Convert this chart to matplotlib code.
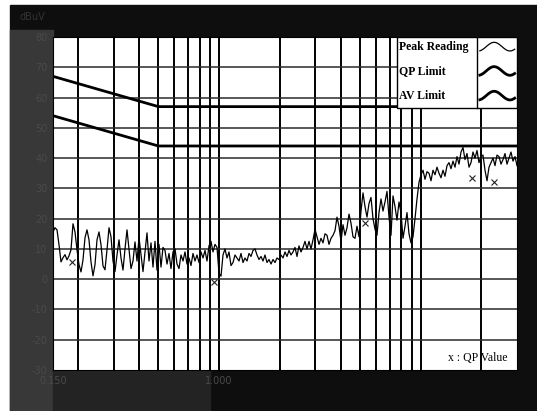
import numpy as np
import matplotlib
matplotlib.use("Agg")
import matplotlib.pyplot as plt
from matplotlib.patches import Rectangle

# --- DATA ---
# limit lines, MHz / dBuV
limit_freq = [0.15, 0.5, 30.0]
qp_limit = [67.0, 57.0, 57.0]
av_limit = [54.0, 44.0, 44.0]

# peak reading, log sweep 0.15 .. 30 MHz, levels in dBuV
peak_low = [15.6, 17.0, 16.3, 11.4, 5.7, 7.1, 8.1, 6.4, 7.7, 9.7,
            18.3, 15.6, 9.7, 4.8, 2.4, 6.4, 13.7, 16.3, 13.0, 5.7,
            1.1, 4.8, 13.0, 15.6, 11.4, 4.4, 3.1, 9.7, 17.0, 14.0,
            6.0, 2.5, 8.0, 13.0, 7.0, 3.0, 10.0, 16.3, 10.0, 3.5,
            6.0, 12.3, 6.0, 13.7, 8.0, 2.5, 9.0, 15.3, 6.0, 12.0,
            4.0, 12.5, 3.0, 11.5]
peak_mid = [4.0, 10.5, 9.5, 5.0, 8.5, 3.5, 9.0, 10.0, 5.0, 3.5,
            8.0, 6.0, 9.0, 5.0, 7.0, 4.5, 8.5, 6.0, 8.0, 5.5,
            9.0, 7.0, 9.5, 6.0, 11.0, 12.5, 9.0, 11.5, 10.5, 2.0,
            1.0, 8.0, 10.0, 7.0, 9.0, 4.5, 5.5, 8.0, 7.0, 6.0,
            8.5, 5.5, 7.0, 6.0, 8.5, 7.5, 9.5, 10.0, 8.0, 6.5,
            7.5, 6.0, 8.0, 5.5, 6.5, 5.0, 6.5, 5.5, 7.0, 6.5,
            8.0, 7.0, 9.0, 7.5, 9.5, 8.0]
peak_rise = [9.0, 10.5, 7.5, 11.0, 9.0, 10.5, 12.5, 10.0, 12.5, 10.0,
             13.0, 16.5, 14.0, 11.5, 13.5, 12.0, 15.0, 14.5, 11.5, 13.5,
             14.5, 16.0, 20.5, 17.5, 12.5, 18.0, 14.5, 17.0, 21.5, 18.5,
             14.0, 13.5, 17.5, 14.0, 22.5, 28.5, 24.0, 20.5, 25.0, 27.0,
             20.0, 16.5, 14.5, 22.0, 26.5, 22.5, 25.5, 29.0, 20.5, 14.5,
             27.5, 24.0, 19.5, 25.5, 22.0, 13.5, 17.5, 22.0, 15.0, 12.0,
             14.0, 20.0, 26.5]
peak_high = [32.0, 34.5, 36.0, 33.0, 35.5, 35.0, 32.5, 36.0, 34.5, 37.0,
             35.0, 33.5, 36.0, 34.0, 37.5, 38.5, 36.5, 39.0, 37.0, 40.5,
             38.0, 42.0, 43.5, 39.5, 41.5, 37.0, 38.5, 42.0, 40.0, 42.5,
             38.5, 40.5, 41.0, 36.0, 32.5, 37.0, 38.5, 40.0, 37.5, 41.0,
             40.5, 38.0, 39.5, 41.5, 38.0, 40.0, 42.0, 39.0, 40.5, 37.5]
peak = peak_low + peak_mid + peak_rise + peak_high
sweep_freq = np.geomspace(0.15, 30.0, len(peak))

# QP measured values
qp_freq = [0.186, 0.944, 5.28, 17.9, 23.1]
qp_value = [5.7, -0.9, 18.6, 33.5, 32.1]

y_ticks = [80, 70, 60, 50, 40, 30, 20, 10, 0, -10, -20, -30]
x_grid = [0.2, 0.3, 0.4, 0.5, 0.6, 0.7, 0.8, 0.9, 1,
          2, 3, 4, 5, 6, 7, 8, 9, 10, 20]
legend_labels = ["Peak Reading", "QP Limit", "AV Limit"]

W, H = 537, 411
fig = plt.figure(figsize=(W / 100, H / 100), dpi=100, facecolor="white")

# scanned dark frame around the plot
def px_rect(x0, y0, x1, y1, color):
    fig.patches.append(Rectangle((x0 / W, 1 - y1 / H), (x1 - x0) / W, (y1 - y0) / H,
                                 transform=fig.transFigure, color=color, zorder=-5))

px_rect(10, 5, W, H, "#0e0e0e")
px_rect(10, 30, 53, H, "#383838")
px_rect(53, 370, 210, H, "#232323")

ax = fig.add_axes([53 / W, 1 - 370 / H, (517 - 53) / W, (370 - 37) / H])
ax.set_zorder(5)
ax.set_facecolor("white")
ax.set_xscale("log")
ax.set_xlim(0.15, 30)
ax.set_ylim(-30, 80)

for f in x_grid:
    ax.axvline(f, color="black", lw=1.4, zorder=1)
for v in y_ticks[1:-1]:
    ax.axhline(v, color="#2a2a2a", lw=1.1, zorder=1)

ax.plot(limit_freq, qp_limit, color="black", lw=2.0, zorder=3)
ax.plot(limit_freq, av_limit, color="black", lw=2.0, zorder=3)
ax.plot(sweep_freq, peak, color="black", lw=0.9, zorder=4)
ax.plot(qp_freq, qp_value, ls="none", marker="x", ms=4.5, mew=0.8,
        color="#222222", zorder=5)

# faint, barely legible axis text as on the scan
ax.set_yticks(y_ticks)
ax.set_yticklabels([str(v) for v in y_ticks])
ax.set_xticks([0.15, 1])
ax.set_xticklabels(["0.150", "1.000"])
ax.xaxis.set_minor_locator(matplotlib.ticker.NullLocator())
ax.tick_params(length=0, labelsize=7, colors="#4a4a4a", pad=4)
for s in ax.spines.values():
    s.set_color("black")
fig.text(20 / W, 1 - 20 / H, "dBuV", fontsize=7, color="#333333")

# hand drawn legend box (top right)
lx0, lx1, ly0 = 0.741, 1.0, 0.787
sw = 0.914
ax.add_patch(Rectangle((lx0, ly0), lx1 - lx0, 1 - ly0, transform=ax.transAxes,
                       facecolor="white", edgecolor="black", lw=1.0, zorder=6))
ax.plot([sw, sw], [ly0, 1], transform=ax.transAxes, color="black", lw=1.0, zorder=7)
rows = [0.971, 0.898, 0.824]
widths = [0.9, 2.0, 2.0]
t = np.linspace(0, 1, 40)
for lab, yr, w in zip(legend_labels, rows, widths):
    ax.text(0.746, yr, lab, transform=ax.transAxes, fontsize=8.5, fontweight="bold",
            family="Liberation Serif", va="center", ha="left", zorder=8)
    ax.plot(0.92 + 0.075 * t, yr + 0.013 * np.sin(2 * np.pi * (1.1 * t - 0.2)),
            transform=ax.transAxes, color="black", lw=w, zorder=8)

ax.text(0.851, 0.036, "x : QP Value", transform=ax.transAxes, fontsize=8.5,
        family="Liberation Serif", va="center", ha="left", zorder=8)

fig.savefig("out.png", dpi=100, facecolor=fig.get_facecolor())
